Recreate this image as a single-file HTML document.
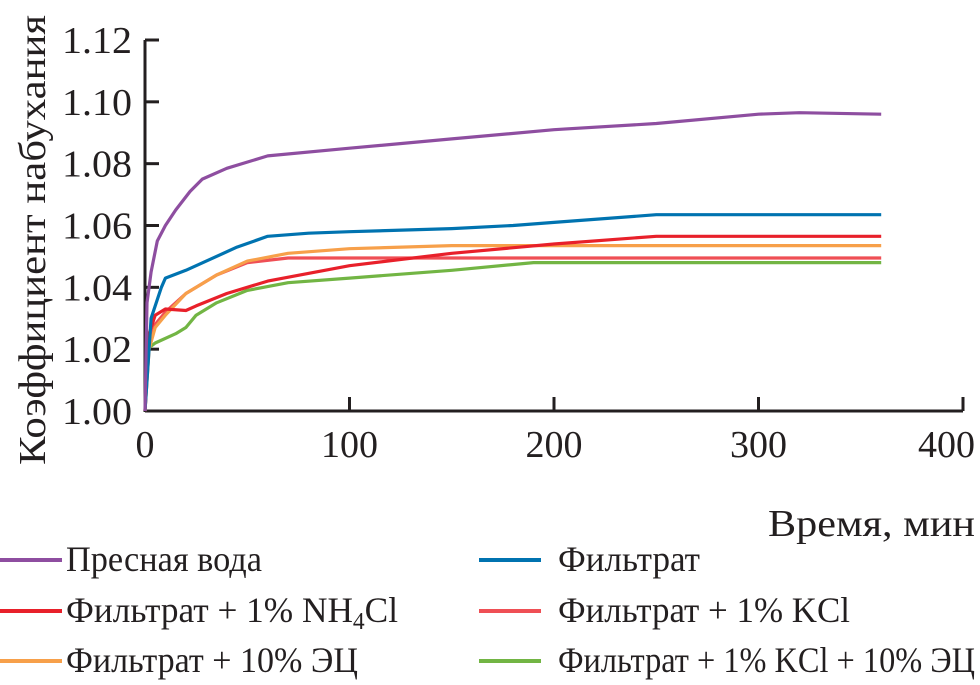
<!DOCTYPE html>
<html><head><meta charset="utf-8"><style>
body{margin:0;background:#fff;width:980px;height:680px;overflow:hidden}
svg text{font-family:"Liberation Serif",serif;fill:#231f20}
</style></head><body>
<svg id="chart" width="980" height="680" xmlns="http://www.w3.org/2000/svg">
<g id="axes"></g><g id="series"></g><g id="legend"></g>
</svg>
<script>
const xTicks=[0,100,200,300,400];
const yTicks=[1.00,1.02,1.04,1.06,1.08,1.10,1.12];
const yTickLabels=["1.00","1.02","1.04","1.06","1.08","1.10","1.12"];
const seriesNames=["Пресная вода","Фильтрат","Фильтрат + 1% NH4Cl","Фильтрат + 1% KCl","Фильтрат + 10% ЭЦ","Фильтрат + 1% KCl + 10% ЭЦ"];
const seriesColors=["#8e4ea0","#0073b0","#e8202a","#ef4f55","#f7a04a","#72b544"];
const waterX=[0,1,3,6,10,15,22,28,40,60,100,150,200,250,300,320,360];
const waterY=[1.0,1.035,1.045,1.055,1.06,1.065,1.071,1.075,1.0785,1.0825,1.085,1.088,1.091,1.093,1.096,1.0965,1.096];
const filtX=[0,3,8,10,20,30,45,60,80,100,150,180,200,250,300,360];
const filtY=[1.0,1.03,1.04,1.043,1.0455,1.0485,1.053,1.0565,1.0575,1.058,1.059,1.06,1.061,1.0635,1.0635,1.0635];
const nh4X=[0,2,5,10,20,25,40,60,100,150,200,250,360];
const nh4Y=[1.0,1.025,1.031,1.033,1.0325,1.034,1.038,1.042,1.047,1.051,1.054,1.0565,1.0565];
const kclX=[0,2,5,10,20,35,50,70,100,150,360];
const kclY=[1.0,1.021,1.028,1.032,1.038,1.044,1.048,1.0495,1.0495,1.0495,1.0495];
const ecX=[0,2,5,10,20,35,50,70,100,150,360];
const ecY=[1.0,1.02,1.027,1.031,1.038,1.044,1.0485,1.051,1.0525,1.0535,1.0535];
const kecX=[0,1,5,15,20,25,35,50,70,100,150,190,360];
const kecY=[1.0,1.02,1.022,1.025,1.027,1.031,1.035,1.039,1.0415,1.043,1.0455,1.048,1.048];
const allX=[waterX,filtX,nh4X,kclX,ecX,kecX];
const allY=[waterY,filtY,nh4Y,kclY,ecY,kecY];

const NS="http://www.w3.org/2000/svg";
const X0=145,X1=963,Y0=411,Y1=40;
const sx=v=>X0+(v-0)/(400-0)*(X1-X0);
const sy=v=>Y0-(v-1.0)/(0.12)*(Y0-Y1);
function mk(tag,attrs,parent,txt){const e=document.createElementNS(NS,tag);for(const k in attrs)e.setAttribute(k,attrs[k]);if(txt!==undefined)e.textContent=txt;parent.appendChild(e);return e;}
const axes=document.getElementById('axes');
let e=mk('line',{x1:X0,y1:Y0,x2:X1,y2:Y0,stroke:'#231f20','stroke-width':3},axes);


e=mk('line',{x1:X0,y1:Y0+1,x2:X0,y2:Y1,stroke:'#231f20','stroke-width':3},axes);


xTicks.forEach((t,i)=>{
 if(i>0){const l=mk('line',{x1:sx(t),y1:Y0,x2:sx(t),y2:Y0-14,stroke:'#231f20','stroke-width':3},axes);
 
 }
 const s=String(t);
 const w=s.length*19;
 const cx=Math.min(sx(t),975-w/2);
 const tx=mk('text',{x:cx-w/2,y:457,'font-size':38,textLength:w,lengthAdjust:'spacingAndGlyphs'},axes,s);
 
 
});
yTicks.forEach((t,i)=>{
 const l=mk('line',{x1:X0,y1:sy(t),x2:X0+14,y2:sy(t),stroke:'#231f20','stroke-width':3},axes);
 
 
 const tx=mk('text',{x:62,y:sy(t)+13,'font-size':38,textLength:70,lengthAdjust:'spacingAndGlyphs'},axes,yTickLabels[i]);
 
 
});
e=mk('text',{x:768,y:536,'font-size':38,textLength:207,lengthAdjust:'spacingAndGlyphs'},axes,'Время, мин');


e=mk('text',{x:-225,y:0,'font-size':38,textLength:450,lengthAdjust:'spacingAndGlyphs',transform:'translate(45,240) rotate(-90)'},axes,'Коэффициент набухания');


const ser=document.getElementById('series');
const order=[5,3,4,2,1,0];
order.forEach(i=>{
 const pts=allX[i].map((x,j)=>sx(x).toFixed(1)+','+sy(allY[i][j]).toFixed(1)).join(' ');
 const p=mk('polyline',{points:pts,fill:'none',stroke:seriesColors[i],'stroke-width':3.2,'stroke-linejoin':'round'},ser);
 
 
});
const leg=document.getElementById('legend');
const lx=[0,479,0,479,0,479],lw=[62,62,62,62,62,62],ly=[571,571,622,622,672,672],tx=[66,558,66,558,66,558];
const tw=[196,142,332,292,292,417];
seriesNames.forEach((n,i)=>{
 const g=mk('g',{},leg);
 
 
 mk('line',{x1:lx[i],y1:ly[i]-11,x2:lx[i]+lw[i],y2:ly[i]-11,stroke:seriesColors[i],'stroke-width':4},g);
 const t=mk('text',{x:tx[i],y:ly[i],'font-size':36,textLength:tw[i],lengthAdjust:'spacingAndGlyphs'},g);
 if(n.includes('NH4')){t.appendChild(document.createTextNode('Фильтрат + 1% NH'));mk('tspan',{'font-size':24,dy:7},t,'4');mk('tspan',{dy:-7},t,'Cl');}
 else t.textContent=n;
});
</script>
</body></html>
